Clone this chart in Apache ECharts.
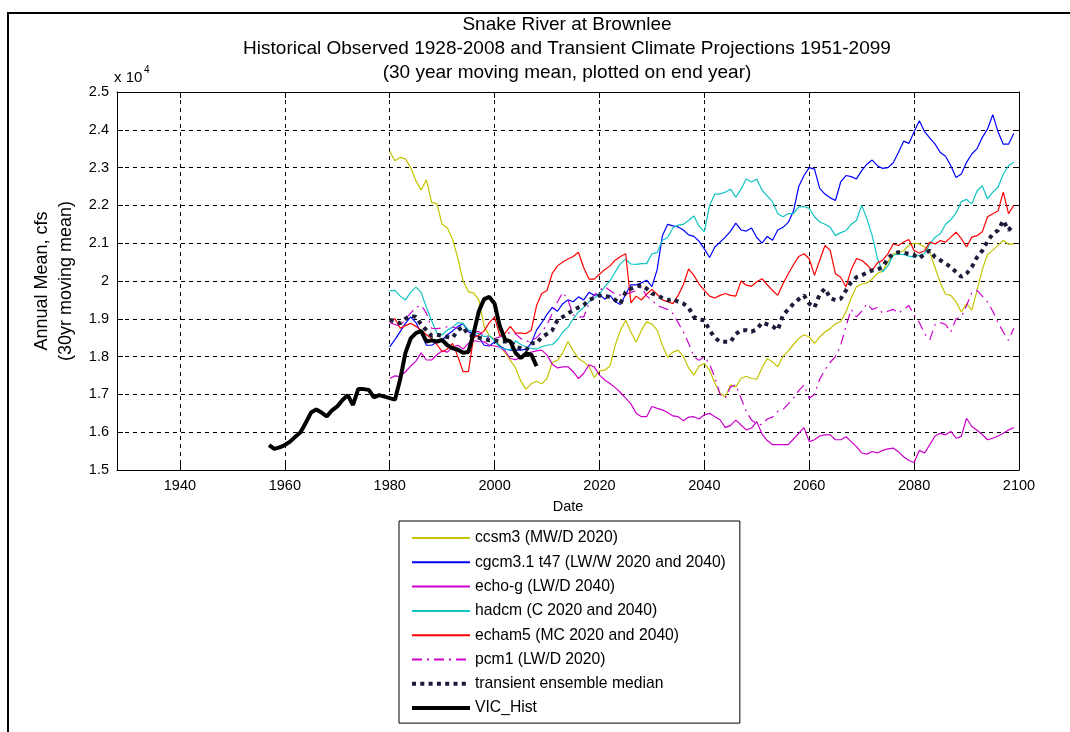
<!DOCTYPE html>
<html>
<head>
<meta charset="utf-8">
<script src="https://cdn.jsdelivr.net/npm/echarts@6/dist/echarts.min.js"></script>
<style>
html,body{margin:0;padding:0;background:#fff;}
#chart{width:1070px;height:732px;}
</style>
</head>
<body>
<div id="chart"></div>
<script>
// ---- data (values in units of 10^4 cfs, 30-yr moving mean plotted on end year) ----
const modelStartYear = 1980;   // models: 1980..2099
const vicStartYear = 1957;     // VIC_Hist: 1957..2008
const xTickValues = [1940, 1960, 1980, 2000, 2020, 2040, 2060, 2080, 2100];

const ccsm3 = [
2.343,2.318,2.327,2.323,2.300,2.265,2.241,2.268,2.208,2.204,
2.150,2.140,2.110,2.060,2.000,1.972,1.968,1.950,1.880,1.855,
1.845,1.830,1.810,1.790,1.770,1.735,1.714,1.728,1.735,1.728,
1.742,1.785,1.790,1.810,1.840,1.815,1.795,1.786,1.775,1.745,
1.762,1.764,1.775,1.830,1.870,1.896,1.865,1.838,1.870,1.892,
1.886,1.870,1.830,1.798,1.812,1.817,1.800,1.770,1.751,1.775,
1.782,1.764,1.730,1.703,1.694,1.725,1.720,1.742,1.748,1.742,
1.740,1.770,1.795,1.786,1.773,1.800,1.815,1.832,1.848,1.858,
1.852,1.835,1.852,1.865,1.874,1.887,1.893,1.918,1.955,1.985,
1.992,1.995,2.005,2.020,2.026,2.050,2.072,2.076,2.080,2.095,
2.100,2.098,2.090,2.075,2.035,1.995,1.965,1.962,1.945,1.918,
1.940,1.923,1.975,2.030,2.070,2.081,2.095,2.107,2.097,2.098];

const cgcm31 = [
1.826,1.845,1.866,1.888,1.905,1.890,1.862,1.830,1.830,1.838,
1.844,1.858,1.868,1.880,1.887,1.866,1.860,1.852,1.830,1.828,
1.839,1.828,1.820,1.817,1.817,1.817,1.820,1.835,1.870,1.890,
1.912,1.930,1.920,1.940,1.950,1.945,1.958,1.950,1.970,1.962,
1.965,1.952,1.962,1.945,1.938,1.965,1.990,1.990,1.995,2.002,
1.985,2.030,2.120,2.150,2.146,2.143,2.135,2.122,2.118,2.105,
2.085,2.062,2.090,2.103,2.116,2.132,2.153,2.135,2.132,2.140,
2.115,2.100,2.118,2.108,2.135,2.142,2.155,2.185,2.250,2.279,
2.300,2.296,2.245,2.230,2.220,2.213,2.262,2.279,2.276,2.270,
2.292,2.309,2.320,2.305,2.298,2.300,2.312,2.340,2.370,2.364,
2.395,2.424,2.395,2.378,2.362,2.340,2.330,2.305,2.274,2.283,
2.314,2.336,2.350,2.380,2.402,2.440,2.395,2.362,2.362,2.390];

const echoG = [
1.742,1.749,1.747,1.760,1.775,1.788,1.810,1.791,1.791,1.805,
1.815,1.812,1.825,1.830,1.820,1.835,1.842,1.840,1.839,1.830,
1.828,1.825,1.815,1.795,1.792,1.797,1.806,1.812,1.815,1.817,
1.804,1.780,1.770,1.773,1.773,1.760,1.742,1.756,1.778,1.773,
1.751,1.738,1.729,1.718,1.705,1.690,1.675,1.650,1.641,1.641,
1.668,1.663,1.659,1.652,1.643,1.641,1.630,1.640,1.641,1.635,
1.646,1.650,1.641,1.633,1.612,1.618,1.632,1.619,1.606,1.611,
1.628,1.595,1.578,1.567,1.567,1.567,1.567,1.582,1.597,1.612,
1.575,1.580,1.590,1.593,1.593,1.580,1.580,1.588,1.575,1.562,
1.545,1.542,1.549,1.545,1.552,1.556,1.558,1.548,1.535,1.525,
1.520,1.552,1.545,1.567,1.590,1.597,1.593,1.602,1.584,1.589,
1.637,1.615,1.605,1.594,1.580,1.584,1.590,1.597,1.606,1.612];

const hadcm = [
1.974,1.975,1.960,1.950,1.970,1.984,1.970,1.930,1.895,1.862,
1.857,1.870,1.878,1.890,1.888,1.870,1.866,1.860,1.853,1.855,
1.842,1.825,1.820,1.818,1.842,1.832,1.826,1.822,1.820,1.826,
1.830,1.832,1.844,1.865,1.878,1.900,1.918,1.930,1.945,1.955,
1.965,1.985,2.000,2.024,2.046,2.058,2.045,2.044,2.046,2.046,
2.072,2.075,2.108,2.115,2.140,2.148,2.150,2.160,2.172,2.145,
2.130,2.200,2.230,2.230,2.235,2.243,2.222,2.243,2.270,2.262,
2.270,2.240,2.225,2.210,2.178,2.170,2.178,2.178,2.196,2.197,
2.192,2.170,2.156,2.150,2.142,2.120,2.128,2.133,2.150,2.160,
2.200,2.165,2.120,2.060,2.024,2.040,2.068,2.072,2.070,2.066,
2.063,2.068,2.072,2.098,2.116,2.125,2.150,2.162,2.180,2.210,
2.216,2.204,2.238,2.252,2.217,2.235,2.248,2.283,2.305,2.314];

const echam5 = [
1.897,1.900,1.875,1.882,1.888,1.880,1.870,1.858,1.848,1.832,
1.813,1.820,1.835,1.800,1.760,1.760,1.850,1.857,1.868,1.890,
1.905,1.855,1.862,1.880,1.862,1.862,1.861,1.870,1.935,1.967,
1.975,2.020,2.040,2.050,2.058,2.065,2.076,2.035,2.005,2.005,
2.018,2.030,2.040,2.055,2.065,2.072,1.942,1.960,1.950,1.965,
1.978,1.965,1.950,1.945,1.940,1.962,1.990,2.032,2.015,1.992,
1.975,1.960,1.955,1.962,1.967,1.962,1.960,2.000,1.989,1.986,
1.998,2.006,1.990,1.975,1.962,1.993,2.019,2.043,2.065,2.072,
2.059,2.015,2.055,2.094,2.081,2.019,2.010,1.984,2.030,2.059,
2.055,2.043,2.028,2.048,2.055,2.072,2.098,2.094,2.103,2.110,
2.080,2.074,2.080,2.103,2.098,2.107,2.103,2.116,2.129,2.112,
2.090,2.116,2.120,2.130,2.170,2.178,2.185,2.235,2.178,2.200];

const pcm1 = [
1.890,1.885,1.880,1.900,1.915,1.930,1.936,1.915,1.875,1.874,
1.876,1.879,1.878,1.875,1.870,1.866,1.866,1.866,1.855,1.850,
1.848,1.852,1.857,1.865,1.860,1.848,1.840,1.842,1.850,1.865,
1.885,1.914,1.945,1.970,1.950,1.910,1.905,1.905,1.940,1.963,
1.975,1.985,1.975,1.965,1.963,1.965,1.970,1.975,1.985,1.960,
1.950,1.935,1.930,1.925,1.914,1.890,1.865,1.835,1.800,1.790,
1.800,1.780,1.745,1.700,1.690,1.720,1.725,1.690,1.655,1.632,
1.622,1.620,1.635,1.640,1.655,1.660,1.675,1.690,1.710,1.725,
1.690,1.700,1.740,1.765,1.785,1.800,1.830,1.880,1.925,1.905,
1.920,1.940,1.925,1.930,1.915,1.920,1.925,1.915,1.925,1.935,
1.910,1.890,1.860,1.845,1.885,1.890,1.885,1.865,1.900,1.905,
1.935,1.970,1.975,1.960,1.945,1.920,1.890,1.865,1.843,1.875];

const ensembleMedian = [
1.897,1.893,1.888,1.900,1.908,1.905,1.885,1.870,1.855,1.858,
1.855,1.852,1.850,1.870,1.879,1.857,1.855,1.850,1.846,1.843,
1.843,1.840,1.840,1.840,1.826,1.822,1.817,1.835,1.835,1.852,
1.860,1.870,1.896,1.905,1.914,1.923,1.930,1.936,1.950,1.955,
1.962,1.960,1.958,1.950,1.940,1.971,1.980,1.985,1.989,1.980,
1.967,1.962,1.955,1.949,1.953,1.945,1.940,1.930,1.905,1.898,
1.896,1.870,1.850,1.839,1.839,1.839,1.860,1.870,1.870,1.866,
1.872,1.890,1.885,1.880,1.870,1.910,1.925,1.940,1.952,1.962,
1.940,1.930,1.965,1.980,1.955,1.949,1.953,1.975,1.997,2.010,
2.015,2.022,2.028,2.030,2.037,2.060,2.072,2.076,2.075,2.072,
2.068,2.060,2.072,2.081,2.063,2.055,2.046,2.037,2.024,2.011,
2.020,2.037,2.063,2.080,2.105,2.125,2.134,2.160,2.134,2.151];

const vicHist = [
1.566,1.556,1.560,1.566,1.575,1.588,1.600,1.625,1.652,1.660,
1.652,1.642,1.658,1.668,1.685,1.698,1.672,1.714,1.714,1.712,
1.692,1.698,1.694,1.690,1.686,1.740,1.810,1.848,1.862,1.868,
1.840,1.843,1.840,1.844,1.830,1.822,1.818,1.810,1.812,1.862,
1.920,1.952,1.958,1.940,1.880,1.845,1.840,1.810,1.796,1.808,
1.805,1.775];

function pairs(start, vals){ return vals.map((v,i)=>[start+i, v]); }

const FONT = '"Liberation Sans", Arial, Helvetica, sans-serif';

const chart = echarts.init(document.getElementById('chart'), null, {renderer:'canvas'});

const gridLine = {show:true, lineStyle:{color:'#000', type:[4,4], width:1}};
const baseSeries = (name, start, vals, color, width, type, z) => ({
  name, type:'line', data: pairs(start, vals), symbol:'none', showSymbol:false,
  animation:false, z: z,
  lineStyle:{color, width, type, cap:'butt'}, itemStyle:{color},
  emphasis:{disabled:true}
});

const option = {
  animation:false,
  backgroundColor:'#fff',
  grid:{left:117, right:51, top:92, bottom:262, containLabel:false},
  xAxis:[{
    type:'value', min:1928, max:2100, position:'bottom',
    name:'Date', nameLocation:'middle', nameGap:29,
    nameTextStyle:{fontFamily:FONT, fontSize:14.5, color:'#000'},
    axisLine:{show:true, onZero:false, lineStyle:{color:'#000', width:1}},
    axisTick:{show:true, inside:true, length:6, customValues:xTickValues, lineStyle:{color:'#000'}},
    axisLabel:{show:true, customValues:xTickValues, margin:8, fontFamily:FONT, fontSize:14.5, color:'#000',
      formatter:v=>String(v)},
    splitLine:gridLine
  },{
    type:'value', min:1928, max:2100, position:'top',
    axisLine:{show:true, onZero:false, lineStyle:{color:'#000', width:1}},
    axisTick:{show:true, inside:true, length:6, customValues:xTickValues, lineStyle:{color:'#000'}},
    axisLabel:{show:false}, splitLine:{show:false}
  }],
  yAxis:[{
    type:'value', min:1.5, max:2.5, interval:0.1, position:'left',
    name:'Annual Mean, cfs\n(30yr moving mean)', nameLocation:'middle', nameGap:34,
    nameTextStyle:{fontFamily:FONT, fontSize:18, lineHeight:24, color:'#000'},
    axisLine:{show:true, onZero:false, lineStyle:{color:'#000', width:1}},
    axisTick:{show:true, inside:true, length:6, lineStyle:{color:'#000'}},
    axisLabel:{margin:8, fontFamily:FONT, fontSize:14.5, color:'#000',
      formatter:v=>String(Math.round(v*10)/10)},
    splitLine:gridLine
  },{
    type:'value', min:1.5, max:2.5, interval:0.1, position:'right',
    axisLine:{show:true, onZero:false, lineStyle:{color:'#000', width:1}},
    axisTick:{show:true, inside:true, length:6, lineStyle:{color:'#000'}},
    axisLabel:{show:false}, splitLine:{show:false}
  }],
  legend:{
    orient:'vertical', left:399, top:521,
    padding:[9,14,7,11],
    backgroundColor:'#fff', borderColor:'#000', borderWidth:1,
    itemWidth:58, itemHeight:16, itemGap:8.3,
    itemStyle:{opacity:0},
    textStyle:{fontFamily:FONT, fontSize:15.7, color:'#000', lineHeight:16},
    selectedMode:false,
    data:['ccsm3 (MW/D 2020)','cgcm3.1 t47 (LW/W 2020 and 2040)','echo-g (LW/D 2040)',
          'hadcm (C 2020 and 2040)','echam5 (MC 2020 and 2040)','pcm1 (LW/D 2020)',
          {name:'transient ensemble median', lineStyle:{width:4, type:[4,4.3], color:'#1c1c3a'}},
          {name:'VIC_Hist', lineStyle:{width:4, color:'#000'}}]
  },
  series:[
    baseSeries('ccsm3 (MW/D 2020)', modelStartYear, ccsm3, '#c4c400', 1.2, 'solid', 2),
    baseSeries('cgcm3.1 t47 (LW/W 2020 and 2040)', modelStartYear, cgcm31, '#0000ff', 1.2, 'solid', 2),
    baseSeries('echo-g (LW/D 2040)', modelStartYear, echoG, '#cc00cc', 1.2, 'solid', 2),
    baseSeries('hadcm (C 2020 and 2040)', modelStartYear, hadcm, '#10c4c4', 1.2, 'solid', 2),
    baseSeries('echam5 (MC 2020 and 2040)', modelStartYear, echam5, '#ff0000', 1.2, 'solid', 2),
    baseSeries('pcm1 (LW/D 2020)', modelStartYear, pcm1, '#cc00cc', 1.2, [10,5,2,5], 2),
    baseSeries('transient ensemble median', modelStartYear, ensembleMedian, '#1c1c3a', 4, [4,4.5], 3),
    baseSeries('VIC_Hist', vicStartYear, vicHist, '#000000', 4, 'solid', 4)
  ],
  graphic:[
    {type:'rect', silent:true, z:-10, shape:{x:8, y:13, width:1100, height:800},
     style:{fill:'none', stroke:'#000', lineWidth:2}},
    {type:'text', silent:true, x:567, y:25, style:{text:'Snake River at Brownlee', font:'19px '+FONT, fill:'#000', textAlign:'center', textVerticalAlign:'middle'}},
    {type:'text', silent:true, x:567, y:49, style:{text:'Historical Observed 1928-2008 and Transient Climate Projections 1951-2099', font:'19px '+FONT, fill:'#000', textAlign:'center', textVerticalAlign:'middle'}},
    {type:'text', silent:true, x:567, y:73, style:{text:'(30 year moving mean, plotted on end year)', font:'19px '+FONT, fill:'#000', textAlign:'center', textVerticalAlign:'middle'}},
    {type:'text', silent:true, x:114, y:78, style:{text:'x 10', font:'15px '+FONT, fill:'#000', textAlign:'left', textVerticalAlign:'middle'}},
    {type:'text', silent:true, x:144, y:70, style:{text:'4', font:'10px '+FONT, fill:'#000', textAlign:'left', textVerticalAlign:'middle'}}
  ]
};
chart.setOption(option);
</script>
</body>
</html>
